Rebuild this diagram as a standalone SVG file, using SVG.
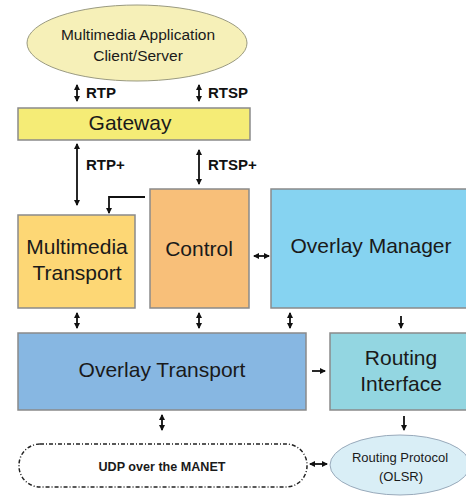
<svg xmlns="http://www.w3.org/2000/svg" width="466" height="496" viewBox="0 0 466 496">
<defs>
<marker id="ah" viewBox="0 0 6 6" refX="5" refY="3" markerWidth="6" markerHeight="6" markerUnits="userSpaceOnUse" orient="auto-start-reverse"><path d="M0,0 L6,3 L0,6 z" fill="#111"/></marker>
<style>
.box{stroke:#8a8a8a;stroke-width:1.5}
.t{font-family:"Liberation Sans",Arial,sans-serif;fill:#1a1a1a;text-anchor:middle}
.big{font-size:21px}
.lbl{font-family:"Liberation Sans",Arial,sans-serif;font-weight:bold;font-size:15px;fill:#111}
.c{stroke:#111;stroke-width:1.8;fill:none}
</style>
</defs>
<rect width="466" height="496" fill="#fff"/>
<g id="app">
<ellipse cx="137" cy="43" rx="110" ry="38" fill="#f6f0b8" stroke="#9a9a80" stroke-width="1"/>
<text class="t" x="138" y="40" font-size="15.5">Multimedia Application</text>
<text class="t" x="138" y="61" font-size="15.5">Client/Server</text>
</g>
<g id="gateway">
<rect class="box" x="18" y="108" width="232" height="32" fill="#f5ec76"/>
<text class="t big" x="130" y="130">Gateway</text>
</g>
<g id="mmtransport">
<rect class="box" x="18" y="215" width="117" height="93" fill="#fdd775"/>
<text class="t big" x="77" y="254">Multimedia</text>
<text class="t big" x="77" y="280">Transport</text>
</g>
<g id="control">
<rect class="box" x="150" y="189" width="99" height="119" fill="#f8bf79"/>
<text class="t big" x="199" y="256">Control</text>
</g>
<g id="overlaymanager">
<rect class="box" x="271" y="189" width="200" height="119" fill="#86d3f1"/>
<text class="t big" x="371" y="253">Overlay Manager</text>
</g>
<g id="overlaytransport">
<rect class="box" x="18" y="333" width="288" height="77" fill="#87b7e2"/>
<text class="t big" x="162" y="377">Overlay Transport</text>
</g>
<g id="routinginterface">
<rect class="box" x="330" y="333" width="141" height="77" fill="#93d6e1"/>
<text class="t big" x="401" y="365">Routing</text>
<text class="t big" x="401" y="391">Interface</text>
</g>
<g id="udp">
<rect x="19" y="444" width="288" height="43" rx="21" ry="21" fill="#fff" stroke="#222" stroke-width="1.5" stroke-dasharray="4,2,1,2"/>
<text class="t" x="162" y="471" font-size="13" font-weight="bold" textLength="127" lengthAdjust="spacingAndGlyphs">UDP over the MANET</text>
</g>
<g id="olsr">
<ellipse cx="400" cy="465" rx="70" ry="30" fill="#d9eef6" stroke="#9ab" stroke-width="1"/>
<text class="t" x="400" y="462" font-size="13">Routing Protocol</text>
<text class="t" x="401" y="481" font-size="13">(OLSR)</text>
</g>
<g id="connectors">
<line class="c" x1="77" y1="85" x2="77" y2="101" marker-start="url(#ah)" marker-end="url(#ah)"/>
<text class="lbl" x="86" y="98">RTP</text>
<line class="c" x1="199" y1="85" x2="199" y2="101" marker-start="url(#ah)" marker-end="url(#ah)"/>
<text class="lbl" x="208" y="98">RTSP</text>
<line class="c" x1="77" y1="144" x2="77" y2="205" marker-start="url(#ah)" marker-end="url(#ah)"/>
<text class="lbl" x="86" y="170">RTP+</text>
<line class="c" x1="199" y1="150" x2="199" y2="184" marker-start="url(#ah)" marker-end="url(#ah)"/>
<text class="lbl" x="208" y="170">RTSP+</text>
<polyline class="c" points="145,197 109,197 109,213" marker-end="url(#ah)"/>
<line class="c" x1="254" y1="256" x2="269" y2="256" marker-start="url(#ah)" marker-end="url(#ah)"/>
<line class="c" x1="77" y1="313" x2="77" y2="328" marker-start="url(#ah)" marker-end="url(#ah)"/>
<line class="c" x1="199" y1="313" x2="199" y2="328" marker-start="url(#ah)" marker-end="url(#ah)"/>
<line class="c" x1="290" y1="313" x2="290" y2="328" marker-start="url(#ah)" marker-end="url(#ah)"/>
<line class="c" x1="401" y1="316" x2="401" y2="328" marker-end="url(#ah)"/>
<line class="c" x1="312" y1="371" x2="325" y2="371" marker-end="url(#ah)"/>
<line class="c" x1="162" y1="415" x2="162" y2="430" marker-start="url(#ah)" marker-end="url(#ah)"/>
<line class="c" x1="404" y1="416" x2="404" y2="430" marker-end="url(#ah)"/>
<line class="c" x1="310" y1="464" x2="327" y2="464" marker-start="url(#ah)" marker-end="url(#ah)"/>
</g>
</svg>
